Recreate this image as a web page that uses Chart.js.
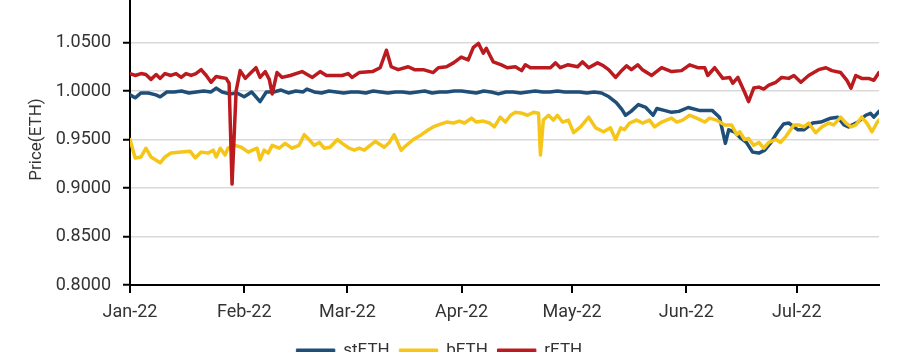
<!DOCTYPE html>
<html>
<head>
<meta charset="utf-8">
<script src="https://cdn.jsdelivr.net/npm/chart.js@4"></script>
<style>
  html, body { margin: 0; padding: 0; background: #fff; overflow: hidden; }
  #wrap { position: absolute; left: 0; top: -40px; width: 902px; height: 409px; }
</style>
</head>
<body>
<div id="wrap"><canvas id="c"></canvas></div>
<script>
// ---- data (x = days since 1 Jan 2022) ----
const monthDays = [0, 31, 59, 90, 120, 151, 181];
const monthLabels = ['Jan-22', 'Feb-22', 'Mar-22', 'Apr-22', 'May-22', 'Jun-22', 'Jul-22'];
const yTicks = [0.8, 0.85, 0.9, 0.95, 1.0, 1.05, 1.1];
const seriesNames = ['stETH', 'bETH', 'rETH'];

const stethDays = [0,1.4,3,5,7,8.2,10,12,14,16,18,20,22,23.4,25,27,29,31,33,35.3,37,39,41,43,45,47,48,50,52,54,56,58,60,62,64,66,68,70,72,74,76,78,80,82,84,86,88,90,92,94,96,98,100,102,104,106,108,110,112,114,116,118,120,122,124,126,128,130,132,133.5,134.5,136,138,140,142,143,145,147,149,151.5,154.5,158,160,161.6,162.5,164,165.6,167.3,169,170.7,172.3,174,175.8,177.4,178.8,180.2,181.3,182.9,185.3,187.5,190.2,192.1,193.8,195,197.6,199.7,201,201.9,203.3];
const stethValues = [0.996,0.993,0.998,0.998,0.996,0.994,0.999,0.999,1.000,0.998,0.999,1.000,0.999,1.003,0.999,0.997,0.998,0.994,0.999,0.989,0.999,0.999,1.001,0.998,1.000,0.999,1.002,0.999,0.998,1.000,0.999,0.998,0.999,0.999,0.998,1.000,0.999,0.998,0.999,0.999,0.998,0.999,1.000,0.998,0.999,0.999,1.000,1.000,0.999,0.998,1.000,0.999,0.997,0.999,0.999,0.998,0.999,1.000,0.999,0.999,1.000,0.999,0.999,0.999,0.998,0.999,0.998,0.994,0.988,0.981,0.975,0.979,0.986,0.983,0.975,0.982,0.980,0.978,0.979,0.983,0.980,0.980,0.973,0.946,0.960,0.958,0.952,0.947,0.937,0.936,0.939,0.947,0.958,0.966,0.967,0.963,0.960,0.960,0.967,0.968,0.972,0.973,0.965,0.963,0.968,0.975,0.977,0.973,0.979];

const bethDays = [0,1.4,3,4.3,5.7,8.2,9.5,11.1,13.9,16.3,17.7,19.3,21.2,22.6,23.4,24.5,25.8,26.6,28.5,30.2,32.1,33.2,34.5,35.3,36.4,37.5,38.6,40.5,42.1,44,45.9,47.3,48.6,50,51.4,52.7,54.3,56.3,57.6,59.5,60.9,62.2,63.6,65.2,66.6,68.2,69,70.4,71.7,73.6,75,76.9,79.1,81,82.3,83.7,85.9,87.8,89.4,90.8,92.7,94,95.9,97.6,98.9,100.5,101.9,103.3,104.6,106.5,107.9,109.5,110.9,111.4,112.2,113.6,114.9,116,117.4,119,120.4,122.3,124.5,126.4,128.5,130.4,131.8,133.2,134.2,135.6,137.5,139.1,141,142.4,144.3,147,148.4,150,151.9,153.8,156,157.3,159.2,161.4,163.3,164.7,165.5,166.8,167.9,169.3,170.7,172,173.4,175.3,176.6,178,179.3,180.2,181.5,182.9,184.2,186.1,187.8,189.7,191,192.9,194.3,195.7,197,198.6,200,201.4,202.7,203.3];
const bethValues = [0.950,0.931,0.932,0.941,0.932,0.926,0.932,0.936,0.937,0.938,0.931,0.937,0.936,0.939,0.932,0.941,0.934,0.941,0.944,0.942,0.937,0.939,0.941,0.929,0.939,0.936,0.944,0.941,0.946,0.941,0.944,0.955,0.950,0.944,0.947,0.941,0.942,0.950,0.946,0.941,0.939,0.941,0.939,0.944,0.948,0.944,0.942,0.947,0.955,0.939,0.944,0.950,0.955,0.960,0.963,0.965,0.968,0.967,0.969,0.967,0.972,0.968,0.969,0.967,0.963,0.973,0.968,0.975,0.978,0.977,0.975,0.978,0.977,0.934,0.970,0.975,0.970,0.975,0.968,0.970,0.957,0.963,0.973,0.962,0.958,0.962,0.950,0.962,0.960,0.967,0.970,0.967,0.970,0.963,0.968,0.972,0.968,0.970,0.975,0.972,0.968,0.972,0.970,0.965,0.965,0.955,0.958,0.950,0.951,0.944,0.947,0.941,0.947,0.950,0.947,0.953,0.960,0.965,0.965,0.963,0.967,0.957,0.963,0.967,0.965,0.973,0.967,0.963,0.965,0.973,0.967,0.958,0.967,0.970];

const rethDays = [0,1.4,3,4.3,5.7,7.1,8.2,9.5,11.1,12.5,13.9,15.2,16.6,17.9,19.3,20.7,22,23.4,24.7,26.1,26.9,27.7,28.8,29.9,31.3,32.6,34.2,35.3,36.7,37.8,38.6,39.9,41.3,43.5,46.7,49.5,51.6,53.3,57.6,59.2,60.3,62.2,65.8,67.9,69.6,70.9,72.8,75.5,77.2,79.6,82.3,83.7,85.9,87.8,89.9,91.8,93.2,94.6,95.9,96.7,98.6,100.8,102.4,104.6,106.3,107.3,108.7,111.4,114.1,115.5,116.8,118.8,121.5,122.8,124.5,126.9,128.5,129.9,131.8,133.2,134.8,136.1,137.8,139.1,141.6,144.3,147,149.7,151.9,154.1,156,156.8,158.7,160.9,162.8,163.6,165,166.8,167.9,169.3,170.7,172,173.4,175.3,176.9,178.8,180.2,182.1,184.2,186.9,188.9,190.5,192.9,194.6,195.7,197,198.6,200.5,201.9,203.3];
const rethValues = [1.018,1.016,1.018,1.017,1.012,1.017,1.013,1.018,1.016,1.018,1.014,1.018,1.016,1.018,1.022,1.016,1.009,1.015,1.014,1.013,1.008,0.904,1.000,1.021,1.013,1.018,1.024,1.014,1.020,1.012,0.997,1.019,1.014,1.016,1.020,1.014,1.020,1.016,1.016,1.018,1.014,1.019,1.020,1.024,1.042,1.025,1.022,1.025,1.022,1.022,1.019,1.024,1.025,1.029,1.035,1.032,1.045,1.049,1.039,1.044,1.030,1.027,1.024,1.025,1.021,1.027,1.024,1.024,1.024,1.029,1.024,1.027,1.025,1.030,1.024,1.029,1.026,1.022,1.014,1.020,1.026,1.022,1.027,1.022,1.016,1.024,1.020,1.021,1.027,1.024,1.024,1.016,1.024,1.013,1.014,1.008,1.014,0.999,0.989,1.003,1.004,1.002,1.006,1.009,1.014,1.013,1.016,1.009,1.016,1.022,1.024,1.021,1.019,1.011,1.003,1.016,1.013,1.013,1.011,1.019];

const colors = ['#1F4E79', '#F5C518', '#BB1A1E'];

const pts = (d, v) => d.map((x, i) => ({ x: x, y: v[i] }));
const FONT = 'Roboto, "Liberation Sans", sans-serif';
const TXT = '#333333';

new Chart(document.getElementById('c'), {
  type: 'line',
  data: {
    datasets: [
      { label: seriesNames[0], data: pts(stethDays, stethValues), borderColor: colors[0], backgroundColor: colors[0], order: 2 },
      { label: seriesNames[1], data: pts(bethDays, bethValues), borderColor: colors[1], backgroundColor: colors[1], order: 1 },
      { label: seriesNames[2], data: pts(rethDays, rethValues), borderColor: colors[2], backgroundColor: colors[2], order: 0 }
    ]
  },
  options: {
    responsive: true,
    maintainAspectRatio: false,
    animation: false,
    devicePixelRatio: 1,
    layout: { padding: { top: 34, right: 23, left: 0, bottom: 0 } },
    elements: {
      line: { borderWidth: 3.5, tension: 0, borderCapStyle: 'round', borderJoinStyle: 'round' },
      point: { radius: 0, hoverRadius: 0 }
    },
    plugins: {
      tooltip: { enabled: false },
      legend: {
        position: 'bottom',
        labels: {
          font: { family: FONT, size: 17 },
          color: TXT,
          boxWidth: 38,
          boxHeight: 3,
          padding: 10,
          sort: (a, b) => a.datasetIndex - b.datasetIndex,
          generateLabels: (chart) => Chart.defaults.plugins.legend.labels.generateLabels(chart)
            .map(l => Object.assign(l, { lineWidth: 1, fillStyle: l.strokeStyle }))
        }
      }
    },
    scales: {
      x: {
        type: 'linear',
        min: 0,
        max: 203.3,
        afterBuildTicks: (s) => { s.ticks = monthDays.map(v => ({ value: v })); },
        afterFit: (s) => { s.height = 47; },
        ticks: {
          autoSkip: false,
          maxRotation: 0,
          padding: 9,
          color: TXT,
          font: { family: FONT, size: 18 },
          callback: (v) => monthLabels[monthDays.indexOf(v)]
        },
        grid: { drawOnChartArea: false, drawTicks: true, tickLength: 8, tickColor: '#000', lineWidth: 2 },
        border: { display: true, color: '#000', width: 2 }
      },
      y: {
        min: 0.8,
        max: 1.1,
        afterBuildTicks: (s) => { s.ticks = yTicks.map(v => ({ value: v })); },
        afterFit: (s) => { s.width = 130; },
        ticks: {
          padding: 12,
          color: TXT,
          font: { family: FONT, size: 18 },
          callback: (v) => Number(v).toFixed(4)
        },
        grid: { color: '#d9d9d9', lineWidth: 1.5, tickLength: 7, tickColor: '#000', tickWidth: 2 },
        border: { display: true, color: '#000', width: 2 },
        title: {
          display: true,
          text: 'Price(ETH)',
          color: TXT,
          font: { family: FONT, size: 17 },
          padding: { top: 27, bottom: 0 }
        }
      }
    }
  }
});
</script>
</body>
</html>
